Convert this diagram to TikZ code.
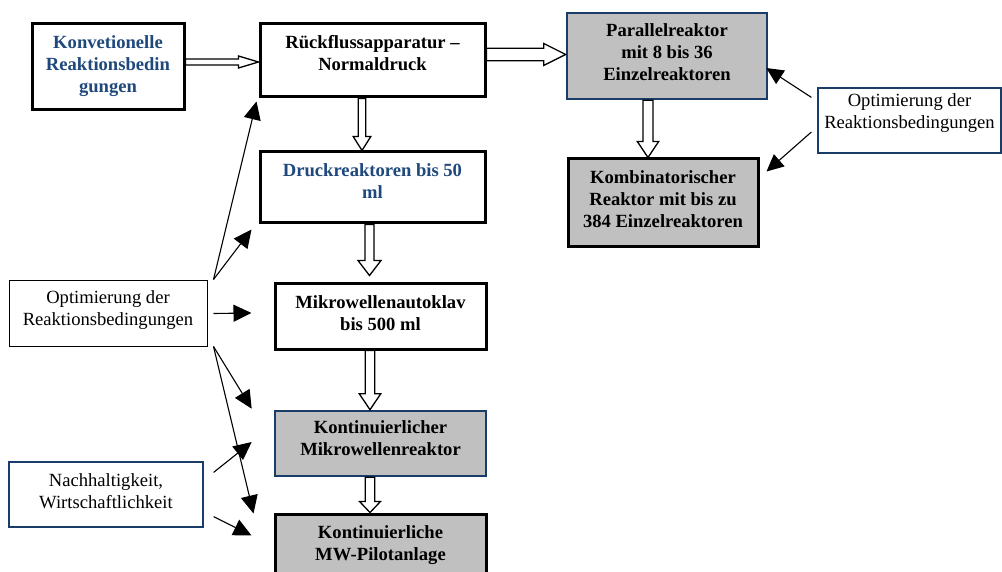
\documentclass[tikz,border=0pt]{standalone}
\usepackage{fontspec}
\setmainfont{Liberation Serif}
\usetikzlibrary{arrows.meta,calc}
\definecolor{tblue}{RGB}{31,73,125}
\definecolor{bblue}{RGB}{25,60,105}
\definecolor{boxgray}{RGB}{192,192,192}

\newcommand{\blockarrow}[5]{%
  \coordinate (bas) at #1;
  \coordinate (bae) at #2;
  \coordinate (bah) at ($(bae)!#5!(bas)$);
  \draw[hollow] ($(bas)!#3!90:(bae)$) -- ($(bah)!#3!-90:(bas)$) -- ($(bah)!#4!-90:(bas)$)
     -- (bae) -- ($(bah)!#4!90:(bas)$) -- ($(bah)!#3!90:(bas)$) -- ($(bas)!#3!-90:(bae)$) -- cycle;
}

\begin{document}
\begin{tikzpicture}[x=1pt,y=-1pt,
  box/.style={draw, rectangle, inner sep=0pt},
  thickbox/.style={box, line width=3pt, draw=black, fill=white},
  thickgray/.style={box, line width=3pt, draw=black, fill=boxgray},
  bluegray/.style={box, line width=2.6pt, draw=bblue, fill=boxgray},
  thinblack/.style={box, line width=1pt, draw=black, fill=white},
  thinblue/.style={box, line width=1.2pt, draw=bblue, fill=white},
  lbl/.style={anchor=north, inner sep=0pt, align=center, font=\fontsize{18.6}{22}\selectfont},
  blbl/.style={lbl, font=\fontsize{18.6}{22}\selectfont\bfseries},
  hollow/.style={draw=black, fill=white, line width=1.3pt, line join=miter},
  ctrl/.style={line width=1.1pt, draw=black, -{Triangle[length=18pt,width=17pt]}},
  ctrlR/.style={line width=1.1pt, draw=black, -{Triangle[length=17pt,width=16pt]}}
]
\useasboundingbox (0,0) rectangle (1002,572);
\clip (0,0) rectangle (1002,572);

% boxes
\node[thickbox, minimum width=152pt, minimum height=86pt,
  label={[blbl, text=tblue, yshift=-10.6pt]north:{\strut Konvetionelle\\Reaktionsbedin\\gungen}}]
  (konv) at (108,67) {};
\node[thickbox, minimum width=225pt, minimum height=73pt,
  label={[blbl, yshift=-10.6pt]north:{\strut Rückflussapparatur –\\Normaldruck}}]
  (rue) at (372.5,60.5) {};
\node[thickbox, minimum width=225pt, minimum height=71pt,
  label={[blbl, text=tblue, yshift=-10.6pt]north:{\strut Druckreaktoren bis 50\\ml}}]
  (druck) at (372.5,187.5) {};
\node[thickbox, minimum width=211pt, minimum height=65pt,
  label={[blbl, yshift=-10.6pt]north:{\strut Mikrowellenautoklav\\bis 500 ml}}]
  (mikro) at (380.5,316.5) {};
\node[bluegray, minimum width=211pt, minimum height=65pt,
  label={[blbl, yshift=-8.6pt]north:{\strut Kontinuierlicher\\Mikrowellenreaktor}}]
  (kont) at (380.5,443.5) {};
\node[thickgray, minimum width=211pt, minimum height=70pt,
  label={[blbl, yshift=-10.6pt]north:{\strut Kontinuierliche\\MW-Pilotanlage}}]
  (pilot) at (380.5,549) {};
\node[bluegray, minimum width=200pt, minimum height=86pt,
  label={[blbl, yshift=-9.6pt]north:{\strut Parallelreaktor\\mit 8 bis 36\\Einzelreaktoren}}]
  (par) at (667,56) {};
\node[thickgray, minimum width=190pt, minimum height=88pt,
  label={[blbl, yshift=-10.6pt]north:{\strut Kombinatorischer\\Reaktor mit bis zu\\384 Einzelreaktoren}}]
  (komb) at (663,203) {};
\node[thinblue, minimum width=183pt, minimum height=65pt,
  label={[lbl, yshift=-3.6pt]north:{\strut Optimierung der\\Reaktionsbedingungen}}]
  (optR) at (909.5,120.5) {};
\node[thinblack, minimum width=198pt, minimum height=65pt,
  label={[lbl, yshift=-7.6pt]north:{\strut Optimierung der\\Reaktionsbedingungen}}]
  (optL) at (108,313.5) {};
\node[thinblue, minimum width=194pt, minimum height=65pt,
  label={[lbl, yshift=-9.6pt]north:{\strut Nachhaltigkeit,\\Wirtschaftlichkeit}}]
  (nach) at (106,494.5) {};

% hollow block arrows
\blockarrow{($(konv.east)+(0,-5)$)}{($(konv.east -| rue.west)+(0,-5)$)}{3pt}{6pt}{20pt}
\blockarrow{($(rue.east)+(0,-6)$)}{($(rue.east -| par.west)+(0,-6)$)}{6.2pt}{11pt}{22pt}
\blockarrow{($(rue.south)+(-10.5,0)$)}{($(druck.north)+(-10.5,0)$)}{3.8pt}{8.8pt}{14pt}
\blockarrow{($(druck.south)+(-3,0)$)}{($(mikro.north)+(-11,-7)$)}{4.5pt}{11.5pt}{15pt}
\blockarrow{($(mikro.south)+(-10.5,0)$)}{($(kont.north)+(-10.5,0)$)}{4.7pt}{10.8pt}{16pt}
\blockarrow{($(kont.south)+(-10.5,0)$)}{($(pilot.north)+(-10.5,0)$)}{4.7pt}{10.5pt}{11pt}
\blockarrow{($(par.south)+(-19,0)$)}{($(komb.north)+(-15,0)$)}{5pt}{10.7pt}{16pt}

% control arrows
\draw[ctrl] ($(optL.north east)+(6,-1)$) -- ($(rue.south west)+(-2,3)$);
\draw[ctrl] ($(optL.north east)+(6,-1)$) -- ($(druck.south west)+(-7,5)$);
\draw[ctrl] ($(optL.east)+(6,0)$) -- ($(mikro.west)+(-22,-3.5)$);
\draw[ctrl] ($(optL.south east)+(6,0)$) -- ($(kont.north west)+(-22,-1)$);
\draw[ctrl] ($(optL.south east)+(6,0)$) -- ($(pilot.north west)+(-20,1)$);
\draw[ctrl] ($(nach.north east)+(10,11)$) -- ($(kont.west)+(-22,-1.5)$);
\draw[ctrl] ($(nach.south east)+(10,-11)$) -- ($(pilot.north west)+(-22,23)$);
\draw[ctrlR] ($(optR.north west)+(-6,10)$) -- ($(par.east)+(-2,12)$);
\draw[ctrlR] ($(optR.west)+(-6,11.5)$) -- ($(komb.north east)+(7,14)$);
\end{tikzpicture}
\end{document}
